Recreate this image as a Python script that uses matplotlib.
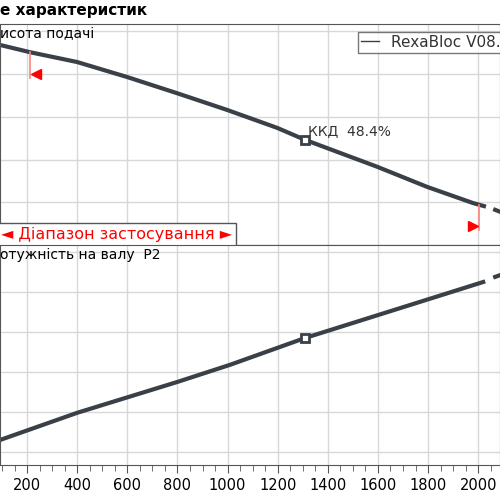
import matplotlib.pyplot as plt
import numpy as np
from matplotlib.ticker import MultipleLocator

# head curve (relative units, grid step = 1)
q_head = [92, 212, 400, 599, 799, 998, 1198, 1309, 1597, 1796, 1980, 2023]
head = [4.68, 4.51, 4.28, 3.93, 3.55, 3.16, 2.74, 2.46, 1.83, 1.36, 0.98, 0.91]
q_head_ext = [2060, 2095]
head_ext = [0.84, 0.76]

# shaft power curve
q_pow = [92, 400, 799, 1010, 1309, 2020]
power = [0.3, 0.98, 1.75, 2.18, 2.85, 4.25]
q_pow_ext = [2060, 2095]
power_ext = [4.36, 4.44]

duty_q = 1309
q_min, q_max = 212, 2005
xticks = [200, 400, 600, 800, 1000, 1200, 1400, 1600, 1800, 2000]

col = '#3a4047'
fig = plt.figure(figsize=(5, 5), dpi=100)
ax1 = fig.add_axes([0, 0.51, 1, 0.442])
ax2 = fig.add_axes([0, 0.07, 1, 0.44])

for ax in (ax1, ax2):
    ax.set_xlim(92, 2087)
    ax.xaxis.set_major_locator(MultipleLocator(200))
    ax.yaxis.set_major_locator(MultipleLocator(1))
    ax.grid(color='#d8d8d8', lw=1)
    ax.tick_params(axis='y', length=0, labelleft=False)
    for s in ax.spines.values():
        s.set_color('#555555')

ax1.set_ylim(0, 5.17)
ax2.set_ylim(-0.325, 5.175)
ax1.tick_params(axis='x', length=0, labelbottom=False)
ax2.xaxis.set_minor_locator(MultipleLocator(50))
ax2.tick_params(axis='x', which='major', length=6, color='#555555', labelsize=10.5, direction='out')
ax2.tick_params(axis='x', which='minor', length=4, color='#555555', direction='out')
ax2.set_xticks(xticks)

l, = ax1.plot(q_head, head, color=col, lw=3, label='RexaBloc V08.24')
ax1.plot(q_head_ext, head_ext, color=col, lw=3, dashes=(3, 3))
h_duty = np.interp(duty_q, q_head, head)
ax1.plot(duty_q, h_duty, 's', ms=6, mfc='white', mec=col, mew=2)
ax1.text(duty_q + 10, h_duty + 0.1, 'ККД  48.4%', fontsize=10, color='#333333')

ax2.plot(q_pow, power, color=col, lw=3)
ax2.plot(q_pow_ext, power_ext, color=col, lw=3, dashes=(3, 3))
ax2.plot(duty_q, np.interp(duty_q, q_pow, power), 's', ms=6, mfc='white', mec=col, mew=2)

# application range markers
h_min = np.interp(q_min, q_head, head)
ax1.plot([q_min, q_min], [h_min - 0.6, h_min], color='#ff8080', lw=1.2)
ax1.plot(q_min + 25, h_min - 0.5, '<', color='red', ms=7)
h_max = np.interp(q_max, q_head, head)
ax1.plot([q_max, q_max], [h_max - 0.6, h_max], color='#ff8080', lw=1.2)
ax1.plot(q_max - 25, h_max - 0.5, '>', color='red', ms=7)

ax1.text(96, 0.25, '◄ Діапазон застосування ►', color='red', fontsize=11.5,
         va='center', ha='left',
         bbox=dict(boxstyle='square,pad=0.25', fc='white', ec='#555555', lw=1))
ax1.plot([962, 962], [0, 0.37], color='red', lw=1.5)

ax1.legend(handles=[l], labels=['RexaBloc V08.24'], loc='upper left',
           bbox_to_anchor=(0.70, 1.0), frameon=True, fancybox=False,
           edgecolor='#555555', fontsize=11, handlelength=1.2, borderpad=0.2,
           labelcolor='#333333')
for line in ax1.get_legend().get_lines():
    line.set_linewidth(1)

ax1.text(0, 0.985, 'исота подачі', transform=ax1.transAxes, va='top', fontsize=10)
ax2.text(0, 0.985, 'отужність на валу  P2', transform=ax2.transAxes, va='top', fontsize=10)
fig.text(0, 0.978, 'е характеристик', fontsize=11, fontweight='bold', va='center')

fig.savefig('out.png')
